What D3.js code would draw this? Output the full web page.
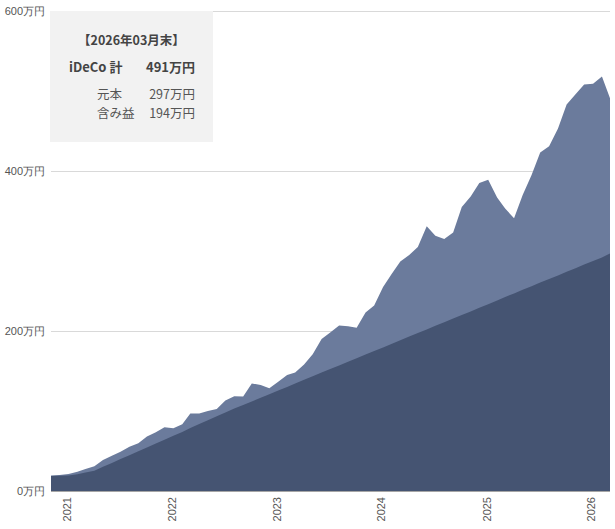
<!DOCTYPE html>
<html>
<head>
<meta charset="utf-8">
<script src="https://cdn.jsdelivr.net/npm/d3@7"></script>
<style>
  body { margin: 0; background: #fff; }
  svg text { font-family: "Liberation Sans", Arial, sans-serif; }
  .box text { font-family: "Noto Sans CJK JP", "Noto Sans", sans-serif; }
</style>
</head>
<body>
<div id="chart"></div>
<script>
// months Nov 2020 .. Mar 2026 (one point per month end)
var firstMonth = new Date(2020, 10, 1);
var lastMonth = new Date(2026, 2, 1);
var months = d3.timeMonth.range(firstMonth, d3.timeMonth.offset(lastMonth, 1));

// 元本 (principal), 万円
var principal = [
  18.8, 19.0, 19.4, 21.0, 23.0, 25.4, 30.2, 35.1, 40.0, 44.8,
  49.7, 54.5, 59.4, 64.2, 69.1, 73.9, 78.8, 83.6, 88.5, 93.3,
  98.2, 103.0, 107.5, 112.0, 116.5, 121.0, 125.5, 130.0, 134.5, 139.0,
  143.5, 148.0, 152.5, 157.0, 161.5, 166.0, 170.5, 175.0, 179.5, 184.0,
  188.5, 193.0, 197.5, 202.0, 206.5, 211.0, 215.5, 220.0, 224.5, 229.0,
  233.5, 238.0, 242.5, 247.0, 251.5, 256.0, 260.5, 265.0, 269.5, 274.0,
  278.5, 283.0, 287.5, 292.0, 297.0
];

// iDeCo 計 (total value), 万円
var total = [
  19.3, 20.0, 21.3, 24.0, 27.5, 31.0, 38.8, 44.0, 49.0, 55.4,
  59.6, 68.0, 73.3, 79.6, 78.3, 83.3, 97.0, 97.0, 100.0, 102.5,
  113.0, 118.5, 118.0, 134.5, 132.5, 128.5, 136.5, 145.0, 148.0, 158.0,
  171.0, 190.0, 198.0, 207.0, 206.0, 204.0, 223.0, 232.0, 255.0, 272.0,
  287.0, 295.0, 305.0, 331.0, 319.0, 315.0, 323.0, 355.0, 368.0, 385.0,
  389.0, 367.0, 353.0, 341.0, 370.0, 395.0, 423.0, 431.0, 453.0, 483.0,
  496.0, 508.0, 509.0, 518.0, 491.0
];

var yTicks = [0, 200, 400, 600];
var yearTicks = [2021, 2022, 2023, 2024, 2025, 2026];

var boxTitle = "【2026年03月末】";
var boxRows = [
  { label: "iDeCo 計", value: "491万円", bold: true },
  { label: "元本", value: "297万円", bold: false },
  { label: "含み益", value: "194万円", bold: false }
];

var chartW = 615, chartH = 529;
var plotLeft = 51, plotRight = 610, plotTop = 11, plotBottom = 491;

var svg = d3.select("#chart").append("svg")
    .attr("width", chartW)
    .attr("height", chartH);

var x = d3.scaleTime()
    .domain([firstMonth, lastMonth])
    .range([plotLeft, plotRight]);

var y = d3.scaleLinear()
    .domain([0, 600])
    .range([plotBottom, plotTop]);

// grid
svg.append("g").selectAll("line")
    .data(yTicks.filter(function(d) { return d > 0; }))
    .enter().append("line")
    .attr("x1", plotLeft)
    .attr("x2", plotRight)
    .attr("y1", function(d) { return y(d) + 0.5; })
    .attr("y2", function(d) { return y(d) + 0.5; })
    .style("stroke", "#d9d9d9")
    .style("stroke-width", 1);

var rows = months.map(function(m, i) {
    return { date: m, principal: principal[i], total: total[i] };
});

var totalArea = d3.area()
    .x(function(d) { return x(d.date); })
    .y0(y(0))
    .y1(function(d) { return y(d.total); });

var principalArea = d3.area()
    .x(function(d) { return x(d.date); })
    .y0(y(0))
    .y1(function(d) { return y(d.principal); });

svg.append("path")
    .datum(rows)
    .attr("d", totalArea)
    .style("fill", "#6b7b9c");

svg.append("path")
    .datum(rows)
    .attr("d", principalArea)
    .style("fill", "#455472");

// baseline
svg.append("line")
    .attr("x1", plotLeft)
    .attr("x2", plotRight)
    .attr("y1", y(0) + 0.5)
    .attr("y2", y(0) + 0.5)
    .style("stroke", "#a6a6a6")
    .style("stroke-width", 1);

// y labels
svg.append("g").selectAll("text")
    .data(yTicks)
    .enter().append("text")
    .attr("x", plotLeft - 6)
    .attr("y", function(d) { return y(d); })
    .attr("dy", "0.35em")
    .attr("text-anchor", "end")
    .style("font-size", "11px")
    .style("fill", "#555")
    .text(function(d) { return d + "万円"; });

// x labels (rotated years)
svg.append("g").selectAll("text")
    .data(yearTicks)
    .enter().append("text")
    .attr("transform", function(d) {
        return "translate(" + (x(new Date(d, 0, 1)) - 1.5) + "," + (plotBottom + 6) + ") rotate(-90)";
    })
    .attr("dy", "0.35em")
    .attr("text-anchor", "end")
    .style("font-size", "11px")
    .style("fill", "#555")
    .text(function(d) { return d; });

// summary box
var box = svg.append("g").attr("class", "box");

box.append("rect")
    .attr("x", 50)
    .attr("y", 11)
    .attr("width", 163)
    .attr("height", 131)
    .style("fill", "#f2f2f2");

box.append("text")
    .attr("x", 131.5)
    .attr("y", 45)
    .attr("text-anchor", "middle")
    .style("font-size", "12.5px")
    .style("font-weight", "bold")
    .style("fill", "#444")
    .text(boxTitle);

var rowY = [72, 99, 118];
boxRows.forEach(function(r, i) {
    box.append("text")
        .attr("x", r.bold ? 69 : 97)
        .attr("y", rowY[i])
        .style("font-size", r.bold ? "13px" : "12.5px")
        .style("font-weight", r.bold ? "bold" : "normal")
        .style("fill", r.bold ? "#444" : "#555")
        .text(r.label);
    box.append("text")
        .attr("x", 195)
        .attr("y", rowY[i])
        .attr("text-anchor", "end")
        .style("font-size", r.bold ? "13px" : "12.5px")
        .style("font-weight", r.bold ? "bold" : "normal")
        .style("fill", r.bold ? "#444" : "#555")
        .text(r.value);
});
</script>
</body>
</html>
